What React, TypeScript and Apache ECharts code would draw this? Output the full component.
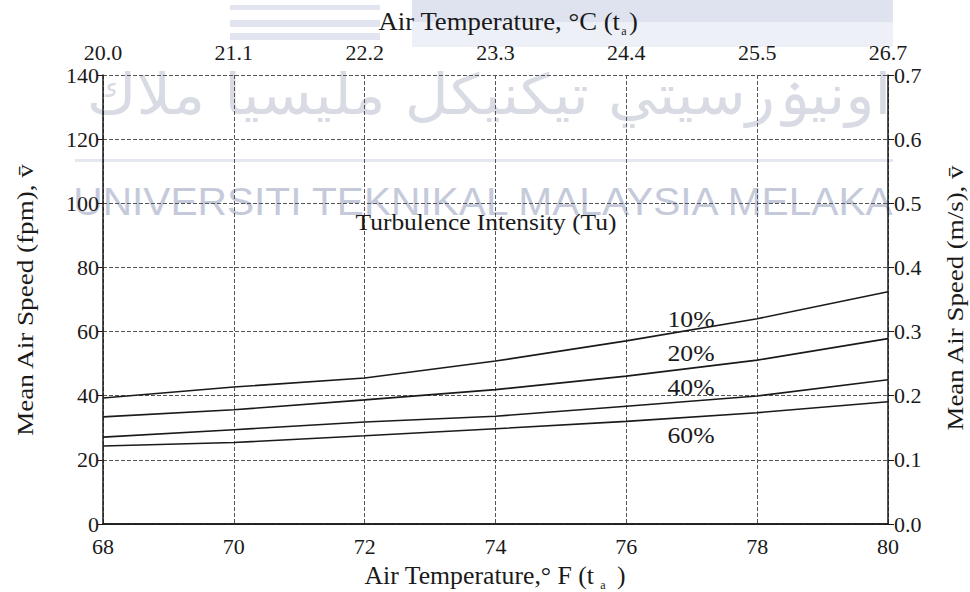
import React, { useEffect, useRef } from "react";
import * as echarts from "echarts";

const tempF = [68, 70, 72, 74, 76, 78, 80];
const tempCLabels = ["20.0", "21.1", "22.2", "23.3", "24.4", "25.5", "26.7"];
const tu10 = [39.3, 42.7, 45.5, 50.8, 57.1, 64.0, 72.4];
const tu20 = [33.4, 35.6, 38.7, 41.9, 46.1, 51.1, 57.8];
const tu40 = [27.1, 29.4, 31.8, 33.6, 36.7, 39.9, 45.0];
const tu60 = [24.3, 25.4, 27.5, 29.7, 32.0, 34.7, 38.1];
const seriesNames = ["10%", "20%", "40%", "60%"];
const seriesValues = [tu10, tu20, tu40, tu60];

const SERIF = "'Liberation Serif', 'Times New Roman', serif";
const INK = "#1a1a1a";

export default function App() {
  const ref = useRef<HTMLDivElement>(null);
  useEffect(() => {
    if (!ref.current) return;
    const chart = echarts.init(ref.current, null, { renderer: "svg" });
    const tickFont = { fontFamily: SERIF, fontSize: 22, color: INK };
    const gridLine = { show: true, lineStyle: { color: "#555", width: 1, type: [4, 2] as any } };
    const txt = (
      text: string,
      x: number,
      y: number,
      size: number,
      opts: { align?: string; scaleX?: number; rotation?: number } = {}
    ) => ({
      type: "text",
      z: 10,
      x,
      y,
      scaleX: opts.scaleX ?? 1,
      rotation: opts.rotation ?? 0,
      style: {
        text,
        font: `${size}px ${SERIF}`,
        fill: INK,
        align: opts.align ?? "center",
        verticalAlign: "middle",
      },
    });
    const option: any = {
      animation: false,
      backgroundColor: "#fff",
      grid: { left: 103, right: 82, top: 75, bottom: 68 },
      xAxis: [
        {
          type: "value",
          position: "bottom",
          min: 68,
          max: 80,
          interval: 2,
          axisLine: { show: true, lineStyle: { color: INK, width: 1.5 } },
          axisTick: { show: false },
          axisLabel: { ...tickFont, margin: 11 },
          splitLine: gridLine,
        },
        {
          type: "value",
          position: "top",
          min: 68,
          max: 80,
          interval: 2,
          axisLine: { show: true, lineStyle: { color: INK, width: 1.5 } },
          axisTick: { show: false },
          axisLabel: {
            ...tickFont,
            margin: 12,
            formatter: (v: number) => tempCLabels[tempF.indexOf(v)] ?? "",
          },
          splitLine: { show: false },
        },
      ],
      yAxis: [
        {
          type: "value",
          position: "left",
          min: 0,
          max: 140,
          interval: 20,
          axisLine: { show: true, lineStyle: { color: INK, width: 1.5 } },
          axisTick: { show: true, length: 6, lineStyle: { color: INK } },
          axisLabel: { ...tickFont, margin: 4 },
          splitLine: gridLine,
        },
        {
          type: "value",
          position: "right",
          min: 0,
          max: 0.7,
          interval: 0.1,
          axisLine: { show: true, lineStyle: { color: INK, width: 1.5 } },
          axisTick: { show: true, length: 6, lineStyle: { color: INK } },
          axisLabel: { ...tickFont, margin: 6, formatter: (v: number) => v.toFixed(1) },
          splitLine: { show: false },
        },
      ],
      series: seriesNames.map((name, i) => ({
        name,
        type: "line",
        xAxisIndex: 0,
        yAxisIndex: 0,
        data: tempF.map((t, j) => [t, seriesValues[i][j]]),
        showSymbol: false,
        symbol: "none",
        lineStyle: { color: INK, width: 1.6 },
        z: 5,
      })),
      graphic: [
        // watermark elements
        { type: "rect", z: -5, shape: { x: 412, y: 0, width: 481, height: 47 }, style: { fill: "#eef0f7" } },
        { type: "rect", z: -5, shape: { x: 412, y: 0, width: 481, height: 22 }, style: { fill: "#dfe3f0" } },
        { type: "rect", z: -5, shape: { x: 230, y: 5, width: 150, height: 5 }, style: { fill: "#e2e5f0" } },
        { type: "rect", z: -5, shape: { x: 230, y: 20, width: 150, height: 7 }, style: { fill: "#e2e5f0" } },
        { type: "rect", z: -5, shape: { x: 230, y: 33, width: 150, height: 7 }, style: { fill: "#e2e5f0" } },
        { type: "rect", z: -5, shape: { x: 75, y: 159, width: 818, height: 3 }, style: { fill: "#e4e7f0" } },
        {
          type: "text",
          z: -4,
          x: 489,
          y: 95,
          scaleX: 1.08,
          style: {
            text: "اونيۏرسيتي تيكنيكل مليسيا ملاك",
            font: "56px 'DejaVu Sans', sans-serif",
            fill: "#d8dbe4",
            align: "center",
            verticalAlign: "middle",
          },
        },
        {
          type: "text",
          z: -4,
          x: 483,
          y: 201,
          scaleX: 1.07,
          style: {
            text: "UNIVERSITI TEKNIKAL MALAYSIA MELAKA",
            font: "38px 'Liberation Sans', Arial, sans-serif",
            fill: "#c5cadb",
            align: "center",
            verticalAlign: "middle",
          },
        },
        // annotations
        txt("Turbulence Intensity (Tu)", 486, 222, 24, { scaleX: 1.06 }),
        ...seriesNames.map((n, i) => txt(n, 691, [319, 353, 387, 435][i], 24, { scaleX: 1.07 })),
        // top axis name
        txt("Air Temperature, °C (t", 620, 22, 25, { align: "right", scaleX: 1.07 }),
        txt("a", 624, 31, 12, { align: "center" }),
        txt(")", 629, 22, 25, { align: "left", scaleX: 1.07 }),
        // bottom axis name
        txt("Air Temperature,° F (t", 594, 575, 25, { align: "right", scaleX: 1.03 }),
        txt("a", 603, 585, 12, { align: "center" }),
        txt(")", 617, 575, 25, { align: "left", scaleX: 1.03 }),
        // y axis names
        txt("Mean Air Speed (fpm), v\u0304", 25, 300, 24, { scaleX: 1.13, rotation: Math.PI / 2 }),
        txt("Mean Air Speed (m/s), v\u0304", 955, 298, 24, { scaleX: 1.12, rotation: Math.PI / 2 }),
      ],
    };
    chart.setOption(option);
    return () => chart.dispose();
  }, []);
  return <div ref={ref} style={{ position: "absolute", left: 0, top: 0, width: 970, height: 592 }} />;
}
